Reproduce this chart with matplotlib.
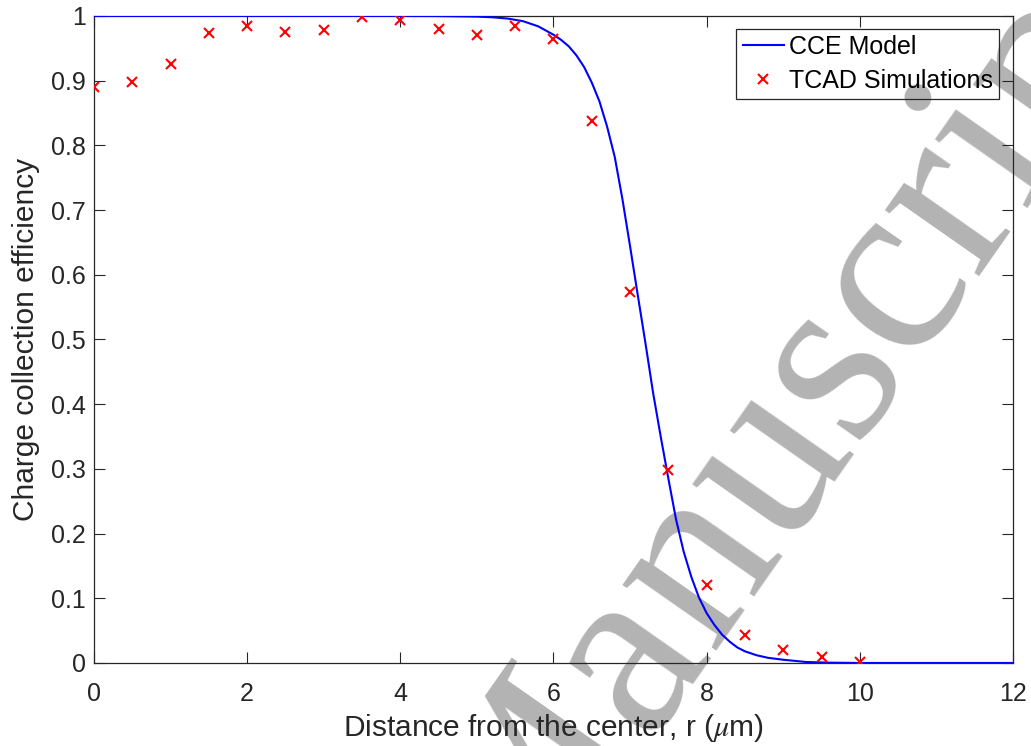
import matplotlib
matplotlib.use("Agg")
import matplotlib.pyplot as plt

# CCE model curve
r_model = [0, 1, 2, 3, 4, 4.5, 5.0, 5.2, 5.4, 5.6, 5.8, 6.0, 6.1, 6.2, 6.3, 6.4, 6.5,
           6.6, 6.7, 6.8, 6.9, 7.0, 7.1, 7.2, 7.3, 7.4, 7.5, 7.6, 7.7, 7.8, 7.9,
           8.0, 8.1, 8.2, 8.3, 8.4, 8.5, 8.65, 8.8, 9.0, 9.3, 9.6, 10, 11, 12]
cce_model = [1.0, 1.0, 1.0, 1.0, 1.0, 0.9998, 0.999, 0.998, 0.996, 0.992, 0.984, 0.971,
             0.963, 0.953, 0.939, 0.921, 0.897, 0.868, 0.829, 0.782, 0.717, 0.644,
             0.569, 0.495, 0.418, 0.35, 0.285, 0.222, 0.172, 0.133, 0.101, 0.077, 0.059,
             0.044, 0.033, 0.024, 0.018, 0.012, 0.008, 0.005, 0.0015, 0.0005, 0.0,
             0.0, 0.0]

# TCAD simulation points
r_tcad = [0, 0.5, 1, 1.5, 2, 2.5, 3, 3.5, 4, 4.5, 5, 5.5, 6, 6.5, 7, 7.5, 8,
          8.5, 9, 9.5, 10]
cce_tcad = [0.890, 0.898, 0.926, 0.974, 0.984, 0.975, 0.978, 0.998, 0.993, 0.980,
            0.971, 0.985, 0.965, 0.838, 0.574, 0.298, 0.121, 0.044, 0.020, 0.009,
            0.002]

xticks = [0, 2, 4, 6, 8, 10, 12]
yticks = [0, 0.1, 0.2, 0.3, 0.4, 0.5, 0.6, 0.7, 0.8, 0.9, 1]
ytick_labels = ["0", "0.1", "0.2", "0.3", "0.4", "0.5", "0.6", "0.7", "0.8", "0.9", "1"]

axcol = "#262626"
plt.rcParams["font.family"] = ["Liberation Sans", "DejaVu Sans"]
plt.rcParams["mathtext.fontset"] = "stix"

fig = plt.figure(figsize=(10.31, 7.46), dpi=100)
ax = fig.add_axes([0.0912, 0.1113, 0.8913, 0.8673])

ax.plot(r_model, cce_model, color="#0000ff", linewidth=1.5, label="CCE Model", zorder=3)
ax.plot(r_tcad, cce_tcad, linestyle="none", marker="x", color="#ff0000",
        markersize=7.5, markeredgewidth=1.5, label="TCAD Simulations", zorder=4)

ax.set_xlim(0, 12)
ax.set_ylim(0, 1)
ax.set_xticks(xticks)
ax.set_yticks(yticks)
ax.set_yticklabels(ytick_labels)
ax.tick_params(direction="in", length=8, width=0.8, colors=axcol, labelsize=18,
               top=True, right=True, pad=6)
ax.tick_params(axis="x", pad=14)
for s in ax.spines.values():
    s.set_color(axcol)
    s.set_linewidth(0.9)

ax.set_xlabel(r"Distance from the center, r ($\mu$m)", fontsize=21.5, color=axcol, labelpad=4)
ax.set_ylabel("Charge collection efficiency", fontsize=21.5, color=axcol, labelpad=8)

leg = ax.legend(loc="upper right", bbox_to_anchor=(0.985, 0.98), fontsize=18,
                fancybox=False, edgecolor=axcol, facecolor="none", framealpha=1,
                handlelength=1.65, handletextpad=0.2, labelspacing=0.38,
                borderpad=0.25, borderaxespad=0)
leg.get_frame().set_linewidth(0.9)
leg.set_zorder(6)
for t in leg.get_texts():
    t.set_color("black")

ax.patch.set_alpha(0)

# watermark
ax.text(0.773, 0.437, "Manuscript", transform=fig.transFigure, fontsize=180,
        family="Liberation Serif", color="#b3b3b3",
        rotation=55, ha="center", va="center", clip_on=False, zorder=0.5)

fig.savefig("out.png", dpi=100, facecolor="white")
